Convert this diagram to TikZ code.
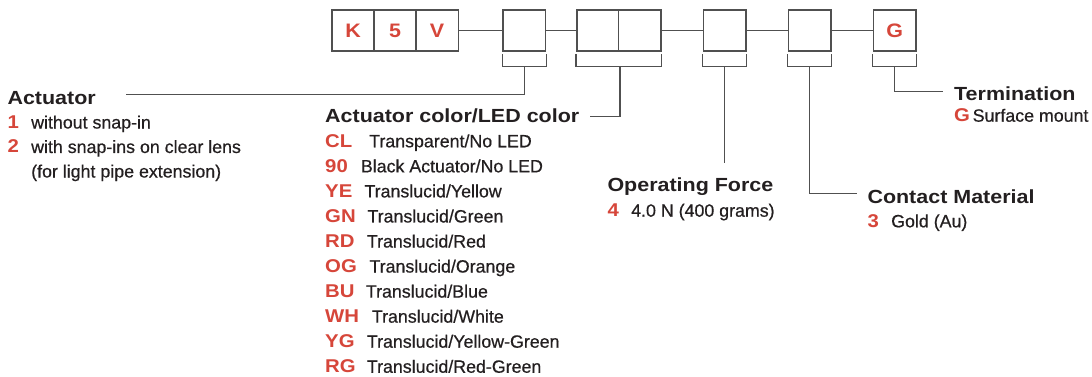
\documentclass[tikz,border=0pt]{standalone}
\usepackage{fontspec}
\setmainfont{Liberation Sans}
\newfontfamily\hfont{Liberation Sans}[FakeStretch=1.13]
\newfontfamily\cfont{Liberation Sans}[FakeStretch=1.1]
\newfontfamily\bodyfont{Liberation Sans}[FakeBold=0.6]
\definecolor{codered}{RGB}{214,70,58}
\definecolor{ink}{RGB}{35,31,32}
\definecolor{linegray}{RGB}{80,80,80}
\tikzset{
  cell/.style={draw=linegray, line width=1.5pt, minimum width=42.5pt, minimum height=41pt, inner sep=0pt, fill=white},
  cellcode/.style={cell, text=codered, font=\cfont\bfseries\fontsize{19.5}{22}\selectfont},
  link/.style={draw=linegray, line width=1.3pt},
  head/.style={anchor=base west, inner sep=0pt, text=ink, font=\hfont\bfseries\fontsize{19}{22}\selectfont},
  code/.style={anchor=base west, inner sep=0pt, text=codered, font=\cfont\bfseries\fontsize{18.5}{22}\selectfont},
  desc/.style={anchor=base west, inner sep=0pt, text=ink, font=\bodyfont\fontsize{17.8}{20}\selectfont},
}
\begin{document}
\begin{tikzpicture}[x=1pt,y=-1pt]
\useasboundingbox (0,0) rectangle (1092,377);
% boxes
\node[cellcode] (k) at (353,30.5) {K};
\node[cellcode] (five) at (395,30.5) {5};
\node[cellcode] (v) at (437,30.5) {V};
\node[cell] (b2) at (524.2,30.5) {};
\node[cell] (b3a) at (598,30.5) {};
\node[cell] (b3b) at (639.5,30.5) {};
\node[cell] (b4) at (724.8,30.5) {};
\node[cell] (b5) at (809.7,30.5) {};
\node[cellcode] (g) at (894.8,30.5) {G};
\draw[link] (v.east) -- (b2.west);
\draw[link] (b2.east) -- (b3a.west);
\draw[link] (b3b.east) -- (b4.west);
\draw[link] (b4.east) -- (b5.west);
\draw[link] (b5.east) -- (g.west);
% bracket levels
\coordinate (brtop) at (0,54.5);
\coordinate (brbot) at (0,66.5);
\draw[link] (b2.west |- brtop) -- (b2.west |- brbot) -- (b2.east |- brbot) -- (b2.east |- brtop);
\draw[link] (b3a.west |- brtop) -- (b3a.west |- brbot) -- (b3b.east |- brbot) -- (b3b.east |- brtop);
\draw[link] (b4.west |- brtop) -- (b4.west |- brbot) -- (b4.east |- brbot) -- (b4.east |- brtop);
\draw[link] (b5.west |- brtop) -- (b5.west |- brbot) -- (b5.east |- brbot) -- (b5.east |- brtop);
\draw[link] (g.west |- brtop) -- (g.west |- brbot) -- (g.east |- brbot) -- (g.east |- brtop);
% connector ends
\coordinate (actend) at (125.7,94.3);
\coordinate (colend) at (590,116.7);
\coordinate (forceend) at (725.7,163.3);
\coordinate (contend) at (856.7,193.3);
\coordinate (termend) at (943.3,91.7);
\draw[link] (b2.south |- brbot) |- (actend);
\draw[link] (b3a.east |- brbot) |- (colend);
\draw[link] (b4.south |- brbot) -- (b4.south |- forceend);
\draw[link] (b5.south |- brbot) |- (contend);
\draw[link] (g.south |- brbot) |- (termend);
% Actuator
\node[head] (acth) at (7.3,104.3) {Actuator};
\node[code] (a1c) at (7.3,128.5) {1};
\node[desc] (a1d) at (31,128.5) {without snap-in};
\node[code] (a2c) at (7.3,153) {2};
\node[desc] (a2d) at (31,153) {with snap-ins on clear lens};
\node[desc] (a3d) at (31,177.5) {(for light pipe extension)};
% Actuator color
\node[head] (colh) at (325,122.3) {Actuator color/LED color};
\foreach \c/\d/\x [count=\i from 0] in {CL/{Transparent/No LED}/369,90/{Black Actuator/No LED}/360.7,YE/{Translucid/Yellow}/364.3,GN/{Translucid/Green}/367.3,RD/{Translucid/Red}/366.7,OG/{Translucid/Orange}/369.3,BU/{Translucid/Blue}/365.7,WH/{Translucid/White}/371.7,YG/{Translucid/Yellow-Green}/366.7,RG/{Translucid/Red-Green}/366.7}{
  \node[code] (cc\i) at (325,147.3+25.05*\i) {\c};
  \node[desc] (cd\i) at (\x,147.3+25.05*\i) {\d};
}
% Operating force
\node[head] (forh) at (607.3,191.7) {Operating Force};
\node[code] (forc) at (607.3,216.7) {4};
\node[desc] (ford) at (631,216.7) {4.0 N (400 grams)};
% Contact material
\node[head] (conh) at (867.3,203.3) {Contact Material};
\node[code] (conc) at (867.3,227.3) {3};
\node[desc] (cond) at (891,227.3) {Gold (Au)};
% Termination
\node[head] (terh) at (954,100.7) {Termination};
\node[code] (terc) at (954,121.7) {G};
\node[desc] (terd) at (972.5,121.7) {Surface mount};
\end{tikzpicture}
\end{document}
